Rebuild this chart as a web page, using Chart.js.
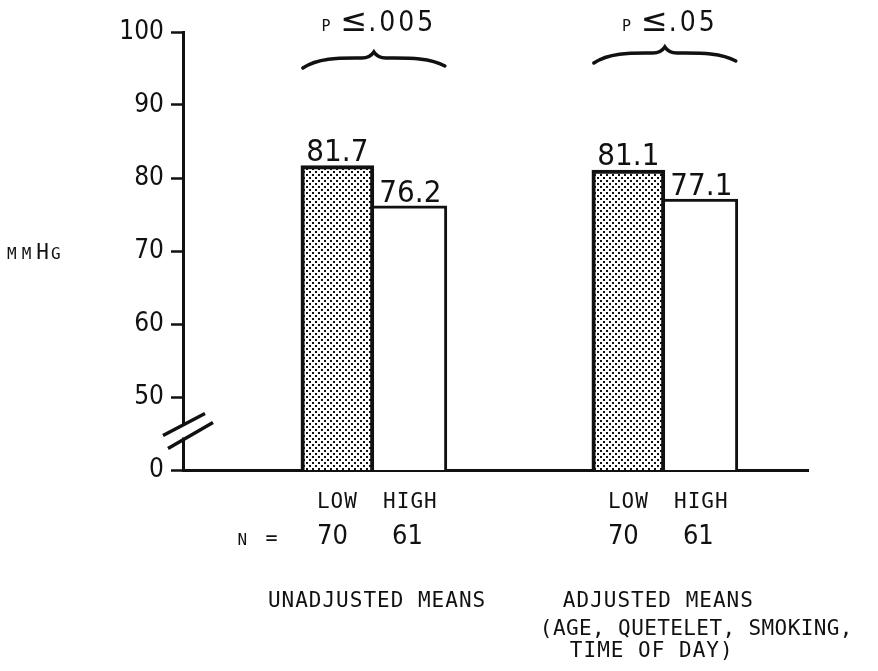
<!DOCTYPE html>
<html>
<head>
<meta charset="utf-8">
<script src="https://cdn.jsdelivr.net/npm/chart.js@4"></script>
<style>
  html, body { margin: 0; padding: 0; background: #fff; }
  canvas { display: block; }
</style>
</head>
<body>
<canvas id="chart" width="878" height="671"></canvas>
<script>
// Mean blood pressure (mmHg) for LOW vs HIGH groups
const groupNames = ['UNADJUSTED MEANS', 'ADJUSTED MEANS'];
const groupNotes = [[], ['(AGE, QUETELET, SMOKING,', 'TIME OF DAY)']];
const groupX = [1, 2];
const seriesNames = ['LOW', 'HIGH'];
const lowMeans = [81.7, 81.1];
const highMeans = [76.2, 77.1];
const lowN = [70, 70];
const highN = [61, 61];
const pValues = ['.005', '.05'];
const yTicks = [40, 50, 60, 70, 80, 90, 100];
const yTickLabels = ['0', '50', '60', '70', '80', '90', '100'];

const ink = '#111';
const narrow = '"Liberation Sans Narrow", "DejaVu Sans Condensed", sans-serif';
const mono = '"DejaVu Sans Mono", "Liberation Mono", monospace';

// stipple fill for the LOW bars
function dotPattern() {
  const c = document.createElement('canvas');
  c.width = 6; c.height = 6;
  const g = c.getContext('2d');
  g.fillStyle = '#fff';
  g.fillRect(0, 0, 6, 6);
  g.fillStyle = ink;
  g.fillRect(0, 0, 2, 2);
  g.fillRect(3, 3, 2, 2);
  return g.createPattern(c, 'repeat');
}

function brace(ctx, cx, y, half) {
  ctx.beginPath();
  ctx.moveTo(cx - half, y + 16);
  ctx.bezierCurveTo(cx - half + 16, y + 5, cx - 32, y + 6, cx - 12, y + 6);
  ctx.quadraticCurveTo(cx - 4, y + 6, cx, y);
  ctx.quadraticCurveTo(cx + 4, y + 6, cx + 12, y + 6);
  ctx.bezierCurveTo(cx + 32, y + 6, cx + half - 16, y + 5, cx + half, y + 14);
  ctx.stroke();
}

function drawParts(ctx, parts, x, y, center) {
  let total = 0;
  parts.forEach(p => {
    ctx.font = p.font;
    ctx.letterSpacing = p.ls || '0px';
    p.w = ctx.measureText(p.text).width;
    total += p.w + (p.gap || 0);
  });
  let px = center ? x - total / 2 : x;
  parts.forEach(p => {
    ctx.font = p.font;
    ctx.letterSpacing = p.ls || '0px';
    ctx.fillText(p.text, px, y);
    px += p.w + (p.gap || 0);
  });
  ctx.letterSpacing = '0px';
}

const annotations = {
  id: 'annotations',
  afterDraw(chart) {
    const ctx = chart.ctx;
    const area = chart.chartArea;
    const ys = chart.scales.y;
    const low = chart.getDatasetMeta(0).data;
    const high = chart.getDatasetMeta(1).data;
    ctx.save();
    ctx.fillStyle = ink;
    ctx.strokeStyle = ink;
    ctx.textAlign = 'left';
    ctx.textBaseline = 'alphabetic';

    // axis break
    const ax = area.left;
    const yc = ys.getPixelForValue(45);
    ctx.fillStyle = '#fff';
    ctx.fillRect(ax - 3, yc - 8, 6, 12);
    ctx.fillStyle = ink;
    ctx.lineWidth = 3.5;
    ctx.beginPath();
    ctx.moveTo(ax - 20, yc + 2); ctx.lineTo(ax + 22, yc - 20);
    ctx.moveTo(ax - 15, yc + 15); ctx.lineTo(ax + 30, yc - 11);
    ctx.stroke();

    // unit label
    const yUnit = ys.getPixelForValue(70) + 8;
    drawParts(ctx, [
      { text: 'MM', font: '16px ' + mono, ls: '5px' },
      { text: 'H', font: '21px ' + mono, ls: '0px', gap: 2 },
      { text: 'G', font: '16px ' + mono }
    ], 7, yUnit, false);

    groupX.forEach((g, i) => {
      const lb = low[i], hb = high[i];
      const cx = (lb.x + hb.x) / 2;

      // value labels
      ctx.textAlign = 'center';
      ctx.font = '31px ' + narrow;
      ctx.fillText(lowMeans[i].toFixed(1), lb.x, lb.y - 5);
      ctx.fillText(highMeans[i].toFixed(1), hb.x, hb.y - 4);

      // series names and N
      ctx.font = '21px ' + mono;
      ctx.letterSpacing = '1px';
      ctx.fillText(seriesNames[0], lb.x, 508);
      ctx.fillText(seriesNames[1], hb.x, 508);
      ctx.letterSpacing = '0px';
      ctx.font = '27px ' + narrow;
      ctx.fillText(String(lowN[i]), lb.x - 5, 544);
      ctx.fillText(String(highN[i]), hb.x - 3, 544);

      // significance brace
      ctx.textAlign = 'left';
      ctx.lineWidth = 3.5;
      ctx.lineCap = 'round';
      brace(ctx, cx, i === 0 ? 52 : 47, 71);
      drawParts(ctx, [
        { text: 'P', font: '15px ' + mono, gap: 10 },
        { text: '≤', font: '32px "DejaVu Sans", sans-serif', gap: 1 },
        { text: pValues[i], font: '28px ' + narrow, ls: '3px' }
      ], cx + 5, 31, true);

      // group titles
      ctx.font = '21px ' + mono;
      ctx.letterSpacing = '1px';
      if (i === 0) {
        ctx.fillText(groupNames[i], cx - 106, 607);
      } else {
        ctx.fillText(groupNames[i], cx - 102, 607);
        ctx.letterSpacing = '0.4px';
        ctx.fillText(groupNotes[i][0], cx - 125, 635);
        ctx.letterSpacing = '1px';
        ctx.fillText(groupNotes[i][1], cx - 95, 657);
      }
      ctx.letterSpacing = '0px';
    });

    // N =
    const lb0 = low[0];
    ctx.font = '16px ' + mono;
    ctx.fillText('N', lb0.x - 100, 545);
    ctx.font = '20px ' + mono;
    ctx.fillText('=', lb0.x - 72, 544);
    ctx.restore();
  }
};

const ctx = document.getElementById('chart').getContext('2d');
new Chart(ctx, {
  type: 'bar',
  data: {
    datasets: [{
      label: seriesNames[0],
      data: groupX.map((x, i) => ({ x: x, y: lowMeans[i] })),
      backgroundColor: dotPattern(),
      borderColor: ink,
      borderWidth: 4,
      barThickness: 73
    }, {
      label: seriesNames[1],
      data: groupX.map((x, i) => ({ x: x, y: highMeans[i] })),
      backgroundColor: '#fff',
      borderColor: ink,
      borderWidth: { top: 3, right: 3, left: 0, bottom: 0 },
      barThickness: 73
    }]
  },
  options: {
    responsive: false,
    animation: false,
    devicePixelRatio: 1,
    layout: { padding: { left: 0, top: 32, right: 70, bottom: 0 } },
    plugins: { legend: { display: false }, tooltip: { enabled: false } },
    scales: {
      x: {
        type: 'linear',
        offset: false,
        min: 0.344,
        max: 2.492,
        ticks: { display: false },
        grid: { display: false, offset: false },
        border: { display: true, color: ink, width: 3 },
        afterFit: s => { s.height = 201; }
      },
      y: {
        min: 40,
        max: 100,
        afterBuildTicks: s => { s.ticks = yTicks.map(v => ({ value: v })); },
        ticks: {
          color: ink,
          padding: 7,
          font: { family: narrow, size: 26 },
          callback: v => yTickLabels[yTicks.indexOf(v)]
        },
        grid: { display: true, drawOnChartArea: false, tickLength: 12, tickWidth: 2.5, tickColor: ink },
        border: { display: true, color: ink, width: 3 },
        afterFit: s => { s.width = 183; }
      }
    }
  },
  plugins: [annotations]
});
</script>
</body>
</html>
